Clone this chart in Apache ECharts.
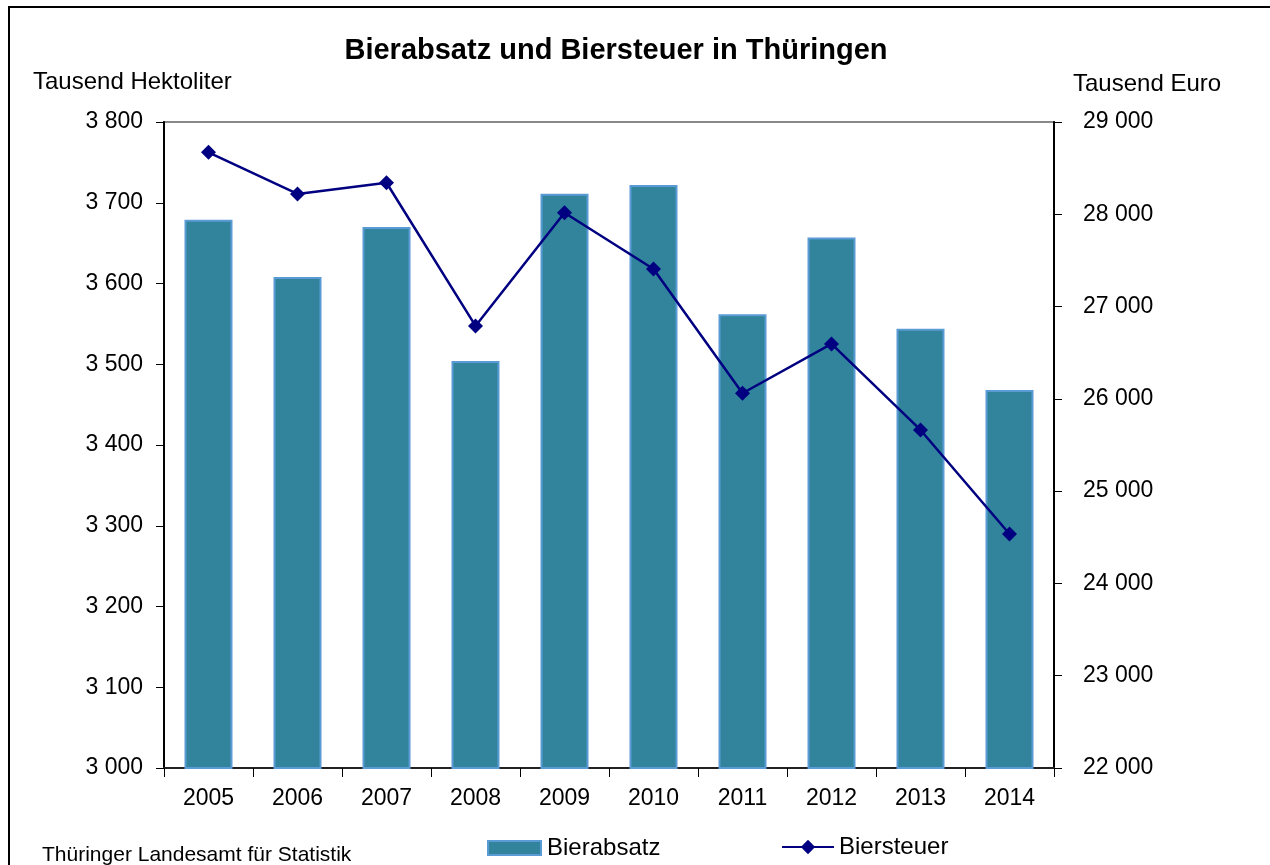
<!DOCTYPE html>
<html>
<head>
<meta charset="utf-8">
<script src="https://cdn.jsdelivr.net/npm/echarts@6/dist/echarts.min.js"></script>
<style>
html,body{margin:0;padding:0;background:#fff;}
#c{width:1270px;height:865px;}
</style>
</head>
<body>
<div id="c"></div>
<script>
const years = ['2005','2006','2007','2008','2009','2010','2011','2012','2013','2014'];
const bierabsatz = [3679, 3608, 3670, 3504, 3711, 3722, 3562, 3657, 3544, 3468];
const biersteuer = [28672, 28220, 28342, 26790, 28017, 27407, 26061, 26595, 25663, 24536];
const leftTicks = {min: 3000, max: 3800, interval: 100};
const rightTicks = {min: 22000, max: 29000, interval: 1000};

const FONT = "'Liberation Sans', Arial, sans-serif";
function fmt(v){ return String(v).replace(/\B(?=(\d{3})+(?!\d))/g, ' '); }

const chart = echarts.init(document.getElementById('c'));
chart.setOption({
  animation: false,
  textStyle: {fontFamily: FONT, color: '#000'},
  title: {
    text: 'Bierabsatz und Biersteuer in Thüringen',
    left: 611, top: 31, textAlign: 'center',
    textStyle: {fontFamily: FONT, fontSize: 29, fontWeight: 'bold', color: '#000'}
  },
  graphic: [
    {type: 'rect', shape: {x: 9, y: 7, width: 1300, height: 900}, style: {fill: 'none', stroke: '#000', lineWidth: 2}, z: 100},
    {type: 'text', left: 33, top: 70, style: {text: 'Tausend Hektoliter', font: "24px " + FONT, fill: '#000'}},
    {type: 'text', left: 1073, top: 72, style: {text: 'Tausend Euro', font: "24px " + FONT, fill: '#000'}},
    {type: 'text', left: 42, top: 845, style: {text: 'Thüringer Landesamt für Statistik', font: "21px " + FONT, fill: '#000'}}
  ],
  legend: [
    {data: [{name: 'Bierabsatz', icon: 'rect'}], left: 482, top: 831, itemWidth: 53, itemHeight: 14, itemGap: 6,
     textStyle: {fontFamily: FONT, fontSize: 24, color: '#000', padding: [0,0,0,1]}},
    {data: ['Biersteuer'], left: 776, top: 830, itemWidth: 52, itemHeight: 18,
     textStyle: {fontFamily: FONT, fontSize: 24, color: '#000', padding: [0,0,0,0]}}
  ],
  grid: {left: 164, right: 216, top: 122, bottom: 97, show: true, borderColor: '#888', borderWidth: 2, backgroundColor: 'transparent'},
  xAxis: {
    type: 'category', data: years, boundaryGap: true,
    axisLine: {lineStyle: {color: '#222', width: 2}},
    axisTick: {show: true, alignWithLabel: false, length: 9, lineStyle: {color: '#000', width: 1}},
    axisLabel: {fontFamily: FONT, fontSize: 23, color: '#000', margin: 19}
  },
  yAxis: [
    {type: 'value', min: leftTicks.min, max: leftTicks.max, interval: leftTicks.interval, position: 'left',
     axisLine: {show: true, lineStyle: {color: '#000', width: 2}},
     axisTick: {show: true, length: 8, lineStyle: {color: '#000'}},
     splitLine: {show: false},
     axisLabel: {fontFamily: FONT, fontSize: 23, color: '#000', margin: 21, formatter: fmt}},
    {type: 'value', min: rightTicks.min, max: rightTicks.max, interval: rightTicks.interval, position: 'right',
     axisLine: {show: true, lineStyle: {color: '#000', width: 2}},
     axisTick: {show: true, length: 8, lineStyle: {color: '#000'}},
     splitLine: {show: false},
     axisLabel: {fontFamily: FONT, fontSize: 23, color: '#000', margin: 29, formatter: fmt}}
  ],
  series: [
    {name: 'Bierabsatz', type: 'bar', yAxisIndex: 0, data: bierabsatz, barWidth: 48,
     itemStyle: {color: '#31849B', borderColor: '#5B9BD5', borderWidth: 2}},
    {name: 'Biersteuer', type: 'line', yAxisIndex: 1, data: biersteuer,
     symbol: 'diamond', symbolSize: 15,
     lineStyle: {color: '#000080', width: 2.5},
     itemStyle: {color: '#000080'}}
  ]
});
</script>
</body>
</html>
